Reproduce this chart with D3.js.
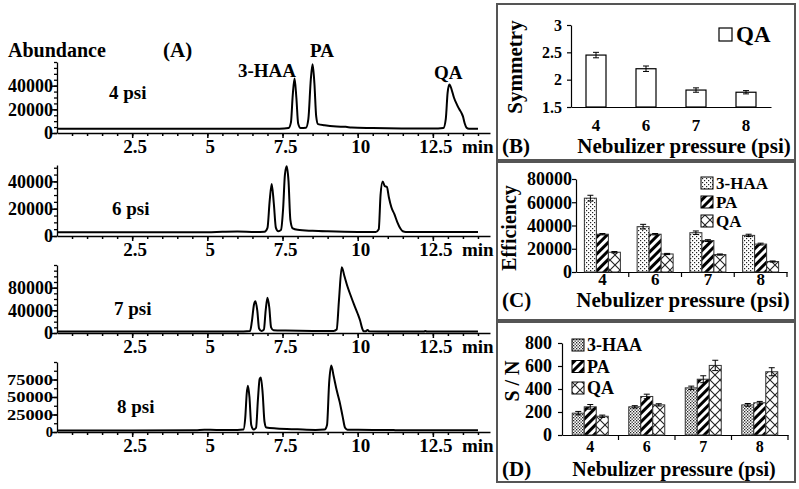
<!DOCTYPE html>
<html>
<head>
<meta charset="utf-8">
<script src="https://cdn.jsdelivr.net/npm/d3@7.9.0/dist/d3.min.js"></script>
<style>
  body { margin: 0; background: #fff; }
  svg text { font-family: "Liberation Serif", "Times New Roman", serif; font-weight: bold; fill: #000; }
</style>
</head>
<body>
<svg id="fig" width="799" height="489"></svg>
<script>
// ---- (A) chromatograms: [time (min), abundance]
const trace4psi = [[0,3500],[6.5,3500],[7.4,3600],[7.7,4200],[7.78,9000],[7.84,32000],[7.9,46000],[7.96,30000],[8.02,8000],[8.1,4200],
  [8.28,4500],[8.36,12000],[8.44,45000],[8.5,58000],[8.56,42000],[8.62,14000],[8.68,7500],[8.9,6500],[9.3,5500],[9.6,5200],[9.8,4600],
  [10.5,4200],[11.5,3800],[12.5,3700],[12.85,4200],[12.93,12000],[12.99,34000],[13.05,41000],[13.12,37000],[13.2,30000],[13.3,24000],
  [13.38,20000],[13.45,17000],[13.5,14000],[13.56,8000],[13.62,4500],[13.7,3600],[14.0,3600]];
const trace6psi = [[0,2800],[5,2800],[5.5,3100],[6,3300],[6.6,3000],[6.9,3200],[7.0,6000],[7.07,25000],[7.14,38000],[7.21,24000],
  [7.28,6000],[7.36,3500],[7.45,4500],[7.52,20000],[7.58,45000],[7.64,51000],[7.7,40000],[7.76,12000],[7.84,5500],[8.0,4500],[8.5,3800],
  [9,3400],[10,3000],[10.6,3000],[10.7,5000],[10.76,30000],[10.83,40000],[10.9,36500],[10.97,36000],[11.04,28000],[11.12,21000],
  [11.22,16000],[11.32,10000],[11.42,5500],[11.5,3500],[11.6,3000],[14.0,3000]];
const trace7psi = [[0,2500],[6.2,2800],[6.42,3500],[6.48,20000],[6.55,50000],[6.6,56000],[6.66,40000],[6.72,8000],[6.8,3500],[6.88,6000],
  [6.94,40000],[7.0,62000],[7.06,45000],[7.12,10000],[7.2,5000],[7.6,4200],[8.5,3500],[9.2,3500],[9.3,6000],[9.38,60000],[9.47,116000],
  [9.56,100000],[9.66,82000],[9.76,67000],[9.88,50000],[10.0,34000],[10.08,22000],[10.15,8000],[10.2,3000],[10.27,3200],[10.33,5500],
  [10.38,3000],[11,2600],[12.2,2800],[12.25,3500],[12.3,2800],[14.0,2500]];
const trace8psi = [[0,2200],[4.6,2500],[4.9,3200],[5.3,3000],[6.0,3000],[6.2,3500],[6.26,20000],[6.31,55000],[6.35,66000],[6.4,50000],
  [6.46,10000],[6.54,3500],[6.62,6000],[6.68,45000],[6.74,76000],[6.78,78000],[6.84,55000],[6.9,15000],[6.96,6500],[7.3,5000],[8,3800],
  [8.6,3000],[8.9,3500],[8.98,10000],[9.05,70000],[9.12,95000],[9.2,80000],[9.3,60000],[9.4,43000],[9.5,22000],[9.58,6000],[9.66,3200],
  [10.5,3000],[11.2,2800],[11.3,2500],[14.0,2500]];
const timeTicks = [2.5, 5, 7.5, 10, 12.5];
const yTicks4 = [0, 20000, 40000];
const yTicks6 = [0, 20000, 40000];
const yTicks7 = [0, 40000, 80000];
const yTicks8 = [0, 25000, 50000, 75000];

// ---- (B)(C)(D) bar charts
const pressures = ['4', '6', '7', '8'];
const compounds = ['3-HAA', 'PA', 'QA'];
const symmetryQA = [2.45, 2.2, 1.81, 1.77];
const symmetryErr = [0.05, 0.05, 0.04, 0.03];
const symTicks = [1.5, 2, 2.5, 3];
const effHAA = [63500, 39000, 33800, 31500];
const effPA = [32500, 32500, 27000, 24000];
const effQA = [17000, 15500, 15000, 9000];
const effErrHAA = [2500, 2000, 1500, 1000];
const effErrPA = [600, 600, 800, 800];
const effErrQA = [600, 500, 500, 500];
const effTicks = [0, 20000, 40000, 60000, 80000];
const snHAA = [190, 245, 410, 262];
const snPA = [245, 335, 485, 280];
const snQA = [163, 262, 605, 550];
const snErrHAA = [15, 10, 15, 12];
const snErrPA = [20, 20, 30, 12];
const snErrQA = [10, 10, 45, 35];
const snTicks = [0, 200, 400, 600, 800];

const svg = d3.select('#fig');
svg.append('rect').attr('width', 799).attr('height', 489).attr('fill', '#fff');

// fill patterns
const defs = svg.append('defs');
function dotPattern(id, size, r) {
  const p = defs.append('pattern').attr('id', id).attr('width', size).attr('height', size)
    .attr('patternUnits', 'userSpaceOnUse');
  p.append('rect').attr('width', size).attr('height', size).attr('fill', '#fff');
  p.append('rect').attr('x', 0).attr('y', 0).attr('width', r).attr('height', r).attr('fill', '#222');
  p.append('rect').attr('x', size / 2).attr('y', size / 2).attr('width', r).attr('height', r).attr('fill', '#222');
}
dotPattern('dotsC', 4, 1.2);
dotPattern('dotsD', 3, 1.3);
const stripe = defs.append('pattern').attr('id', 'stripes').attr('width', 6).attr('height', 6)
  .attr('patternUnits', 'userSpaceOnUse').attr('patternTransform', 'rotate(45)');
stripe.append('rect').attr('width', 6).attr('height', 6).attr('fill', '#fff');
stripe.append('rect').attr('width', 3).attr('height', 6).attr('fill', '#000');
const cross = defs.append('pattern').attr('id', 'cross').attr('width', 10).attr('height', 10)
  .attr('patternUnits', 'userSpaceOnUse');
cross.append('rect').attr('width', 10).attr('height', 10).attr('fill', '#fff');
cross.append('path').attr('d', 'M0,0L10,10M10,0L0,10').attr('stroke', '#222').attr('stroke-width', 1.1);

// ---------------- panel A ----------------
const xTime = d3.scaleLinear().domain([0, 14.4]).range([57, 490]);
const chromPanels = [
  { trace: trace4psi, label: '4 psi', ticks: yTicks4, max: 60000, top: 62, zero: 133, lx: 109, ly: 99, minor: 5000, fs: 18 },
  { trace: trace6psi, label: '6 psi', ticks: yTicks6, max: 52000, top: 165, zero: 236, lx: 112, ly: 215, minor: 5000, fs: 18 },
  { trace: trace7psi, label: '7 psi', ticks: yTicks7, max: 120000, top: 265, zero: 333, lx: 114, ly: 315, minor: 10000, fs: 18 },
  { trace: trace8psi, label: '8 psi', ticks: yTicks8, max: 100000, top: 362, zero: 432, lx: 117, ly: 413, minor: 12500, fs: 14.5 }
];

chromPanels.forEach((p) => {
  const y = d3.scaleLinear().domain([0, p.max]).range([p.zero, p.top]);
  const g = svg.append('g');

  // x axis: minor and major ticks
  g.append('g').attr('transform', `translate(0,${p.zero})`)
    .call(d3.axisBottom(xTime).tickValues(d3.range(0.5, 14.3, 0.5)).tickSize(3).tickSizeOuter(0).tickFormat(''))
    .call((a) => a.selectAll('line,path').attr('stroke', '#000').attr('stroke-width', 1.5));
  g.append('g').attr('transform', `translate(0,${p.zero})`)
    .call(d3.axisBottom(xTime).tickValues(timeTicks).tickSize(5).tickSizeOuter(0).tickFormat(''))
    .call((a) => a.select('.domain').remove())
    .call((a) => a.selectAll('line').attr('stroke', '#000').attr('stroke-width', 1.5));
  timeTicks.forEach((t) => {
    g.append('text').attr('x', xTime(t) + 3).attr('y', p.zero + 20).attr('text-anchor', 'middle')
      .style('font-size', '19px').text(t);
  });
  g.append('text').attr('x', 462).attr('y', p.zero + 20).style('font-size', '19px').text('min');

  // y axis
  g.append('g').attr('transform', 'translate(57,0)')
    .call(d3.axisLeft(y).tickValues(d3.range(0, p.max + 1, p.minor)).tickSize(3).tickSizeOuter(0).tickFormat(''))
    .call((a) => a.selectAll('line,path').attr('stroke', '#000').attr('stroke-width', 1.3));
  g.append('g').attr('transform', 'translate(57,0)')
    .call(d3.axisLeft(y).tickValues(p.ticks).tickSize(5).tickFormat(''))
    .call((a) => a.select('.domain').remove())
    .call((a) => a.selectAll('line').attr('stroke', '#000').attr('stroke-width', 1.5));
  p.ticks.forEach((v) => {
    const t = g.append('text').attr('x', 53).attr('y', y(v)).attr('dy', '0.35em').attr('text-anchor', 'end')
      .style('font-size', p.fs + 'px').text(v);
    if (p.fs < 18 && v > 0) t.attr('textLength', 46).attr('lengthAdjust', 'spacingAndGlyphs');
  });

  // trace
  g.append('path').datum(p.trace)
    .attr('d', d3.line().x((d) => xTime(d[0])).y((d) => y(d[1])).curve(d3.curveMonotoneX))
    .attr('fill', 'none').attr('stroke', '#000').attr('stroke-width', 2);

  g.append('text').attr('x', p.lx).attr('y', p.ly).style('font-size', '19px').text(p.label);
});

svg.append('text').attr('x', 8).attr('y', 57).style('font-size', '20px').text('Abundance');
svg.append('text').attr('x', 163).attr('y', 57).style('font-size', '21px').text('(A)');
svg.append('text').attr('x', 238).attr('y', 77).style('font-size', '19px').text('3-HAA');
svg.append('text').attr('x', 310).attr('y', 57).style('font-size', '19px').text('PA');
svg.append('text').attr('x', 434).attr('y', 79).style('font-size', '19px').text('QA');

// ---------------- panel boxes ----------------
[[4, 160], [162, 320], [322, 482]].forEach(([y0, y1]) => {
  svg.append('rect').attr('x', 497).attr('y', y0).attr('width', 298).attr('height', y1 - y0)
    .attr('fill', 'none').attr('stroke', '#555').attr('stroke-width', 2);
});

function errorBar(g, cx, yScale, v, e, cap) {
  g.append('line').attr('x1', cx).attr('x2', cx).attr('y1', yScale(v - e)).attr('y2', yScale(v + e))
    .attr('stroke', '#000').attr('stroke-width', 1);
  [v - e, v + e].forEach((w) => {
    g.append('line').attr('x1', cx - cap).attr('x2', cx + cap).attr('y1', yScale(w)).attr('y2', yScale(w))
      .attr('stroke', '#000').attr('stroke-width', 1);
  });
}

function yAxis(g, x0, yScale, ticks, size, labelX, fmt) {
  g.append('g').attr('transform', `translate(${x0},0)`)
    .call(d3.axisLeft(yScale).tickValues(ticks).tickSize(4).tickSizeOuter(0).tickFormat(''))
    .call((a) => a.selectAll('line,path').attr('stroke', '#000').attr('stroke-width', 1.2));
  ticks.forEach((v) => {
    g.append('text').attr('x', labelX).attr('y', yScale(v)).attr('dy', '0.35em').attr('text-anchor', 'end')
      .style('font-size', size).text(fmt ? fmt(v) : v);
  });
}

// ---------------- panel B ----------------
{
  const g = svg.append('g');
  const x = d3.scaleBand().domain(pressures).range([571, 771]);
  const y = d3.scaleLinear().domain([1.5, 3]).range([107, 25]);
  yAxis(g, 571, y, symTicks, '16px', 562, d3.format('.1~f'));
  g.append('g').attr('transform', 'translate(0,107)')
    .call(d3.axisBottom(x).tickSize(0).tickFormat(''))
    .call((a) => a.selectAll('path').attr('stroke', '#000').attr('stroke-width', 1.2));
  pressures.forEach((c, i) => {
    const cx = x(c) + x.bandwidth() / 2;
    g.append('rect').attr('x', cx - 10).attr('y', y(symmetryQA[i])).attr('width', 20)
      .attr('height', y(1.5) - y(symmetryQA[i])).attr('fill', '#fff').attr('stroke', '#000').attr('stroke-width', 1.2);
    errorBar(g, cx, y, symmetryQA[i], symmetryErr[i], 3);
    g.append('text').attr('x', cx).attr('y', 131).attr('text-anchor', 'middle').style('font-size', '17px').text(c);
  });
  g.append('rect').attr('x', 719).attr('y', 28).attr('width', 13).attr('height', 13)
    .attr('fill', '#fff').attr('stroke', '#000').attr('stroke-width', 1.2);
  g.append('text').attr('x', 736).attr('y', 42).style('font-size', '23px').text('QA');
  g.append('text').attr('transform', 'translate(522,67) rotate(-90)').attr('text-anchor', 'middle')
    .style('font-size', '21px').text('Symmetry');
  g.append('text').attr('x', 502).attr('y', 153).style('font-size', '21px').text('(B)');
  g.append('text').attr('x', 684).attr('y', 153).attr('text-anchor', 'middle').style('font-size', '21px')
    .text('Nebulizer pressure (psi)');
}

// ---------------- grouped bar panels C, D ----------------
function groupedPanel(o) {
  const g = svg.append('g');
  const x = d3.scaleBand().domain(pressures).range(o.xRange);
  const sub = d3.scaleBand().domain(compounds).range([0, 36]);
  const y = d3.scaleLinear().domain(o.yDomain).range(o.yRange);
  yAxis(g, o.xRange[0], y, o.ticks, '18px', o.labelX);
  g.append('g').attr('transform', `translate(0,${o.yRange[0]})`)
    .call(d3.axisBottom(x).tickSize(0).tickFormat(''))
    .call((a) => a.selectAll('path').attr('stroke', '#000').attr('stroke-width', 1.2));
  pressures.forEach((c, i) => {
    g.append('line').attr('x1', x(c) + x.bandwidth()).attr('x2', x(c) + x.bandwidth())
      .attr('y1', o.yRange[0]).attr('y2', o.yRange[0] + 5).attr('stroke', '#000').attr('stroke-width', 1.2);
    const x0 = x(c) + (x.bandwidth() - 36) / 2;
    compounds.forEach((s, k) => {
      const v = o.values[k][i];
      g.append('rect').attr('x', x0 + sub(s)).attr('y', y(v)).attr('width', sub.bandwidth())
        .attr('height', y(0) - y(v)).attr('fill', `url(#${o.fills[k]})`).attr('stroke', '#333').attr('stroke-width', 1);
      errorBar(g, x0 + sub(s) + sub.bandwidth() / 2, y, v, o.errors[k][i], 3);
    });
    g.append('text').attr('x', x(c) + x.bandwidth() / 2).attr('y', o.catY).attr('text-anchor', 'middle')
      .style('font-size', o.catSize).text(c);
  });
  compounds.forEach((s, k) => {
    const cy = o.legY[k];
    g.append('rect').attr('x', o.legX).attr('y', cy - 6).attr('width', 12).attr('height', 12)
      .attr('fill', `url(#${o.fills[k]})`).attr('stroke', '#000').attr('stroke-width', 1);
    g.append('text').attr('x', o.legX + 15).attr('y', cy).attr('dy', '0.35em').style('font-size', o.legSize).text(s);
  });
  g.append('text').attr('transform', `translate(${o.titleX},${o.titleY}) rotate(-90)`).attr('text-anchor', 'middle')
    .style('font-size', '20px').text(o.title);
  g.append('text').attr('x', 502).attr('y', o.footY).style('font-size', '21px').text(o.tag);
  g.append('text').attr('x', o.footX).attr('y', o.footY).attr('text-anchor', 'middle').style('font-size', o.footSize)
    .text('Nebulizer pressure (psi)');
}

groupedPanel({
  xRange: [576, 787], yDomain: [0, 80000], yRange: [272, 179], ticks: effTicks, labelX: 572,
  values: [effHAA, effPA, effQA], errors: [effErrHAA, effErrPA, effErrQA], fills: ['dotsC', 'stripes', 'cross'],
  catY: 285, catSize: '17px', legX: 701, legY: [183, 202, 221], legSize: '17px', title: 'Efficiency', titleX: 516, titleY: 228,
  tag: '(C)', footX: 683, footY: 307, footSize: '21px'
});

groupedPanel({
  xRange: [562, 788], yDomain: [0, 800], yRange: [435, 343], ticks: snTicks, labelX: 552,
  values: [snHAA, snPA, snQA], errors: [snErrHAA, snErrPA, snErrQA], fills: ['dotsD', 'stripes', 'cross'],
  catY: 452, catSize: '16px', legX: 572, legY: [345, 366.5, 388], legSize: '18px', title: 'S / N', titleX: 519, titleY: 381,
  tag: '(D)', footX: 674, footY: 476, footSize: '20px'
});
</script>
</body>
</html>
